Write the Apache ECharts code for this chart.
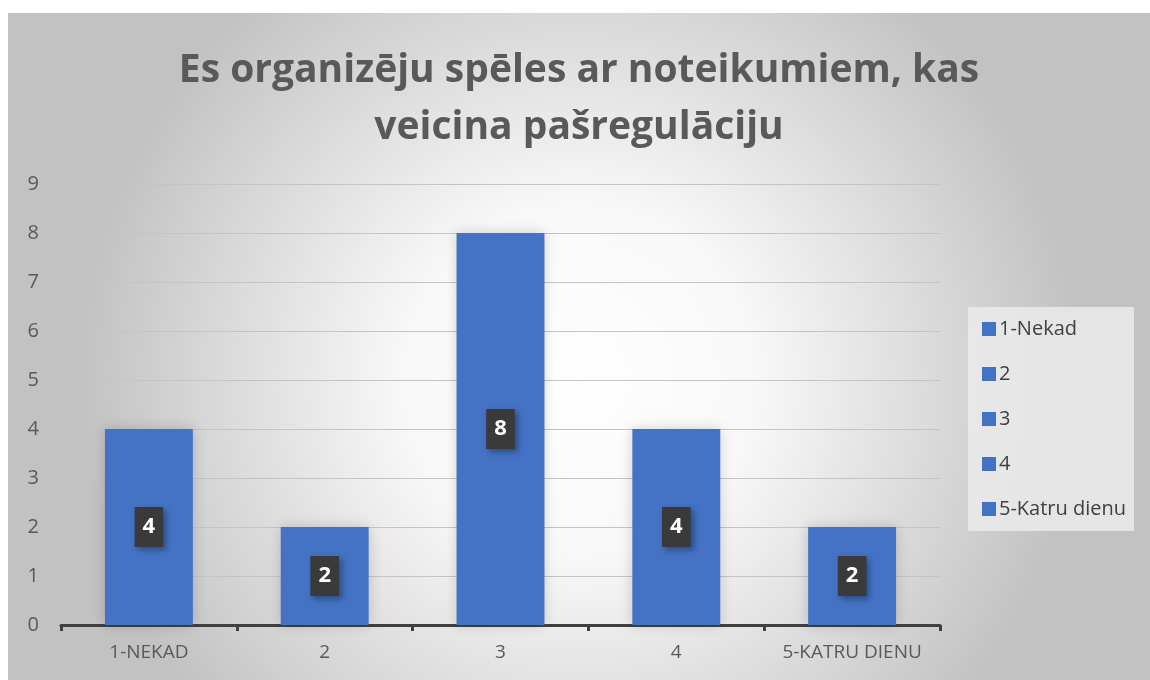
<!DOCTYPE html>
<html>
<head>
<meta charset="utf-8">
<script src="https://cdn.jsdelivr.net/npm/echarts@6/dist/echarts.min.js"></script>
<style>
	html, body { margin: 0; padding: 0; background: #fff; }
	#chart { position: absolute; left: 8px; top: 13px; width: 1142px; height: 667px; }
</style>
</head>
<body>
<div id="chart"></div>
<script>
(function () {

	var TITLE      = 'Es organizēju spēles ar noteikumiem, kas\nveicina pašregulāciju';
	var categories = ['1-NEKAD', '2', '3', '4', '5-KATRU DIENU'];
	var legendNames = ['1-Nekad', '2', '3', '4', '5-Katru dienu'];
	var values     = [4, 2, 8, 4, 2];
	var yTicks     = { min: 0, max: 9, interval: 1 };

	var BLUE = '#4472C4';
	var FONT = '"Open Sans", "Noto Sans", sans-serif';

	// one series per category, stacked so each bar stays centred on its slot
	var series = legendNames.map(function (name, i) {
		var data = values.map(function (v, j) { return j === i ? v : '-'; });
		return {
			name: name, type: 'bar', stack: 'all', barWidth: '50%',
			itemStyle: { color: BLUE, shadowBlur: 12, shadowColor: 'rgba(0,0,0,0.18)' },
			label: {
				show: true, position: 'inside',
				color: '#fff', fontFamily: FONT, fontWeight: 'bold', fontSize: 22,
				backgroundColor: '#3a3a3a', padding: [10, 8, 8, 8],
				shadowBlur: 6, shadowOffsetX: 3, shadowOffsetY: 3, shadowColor: 'rgba(0,0,0,0.35)'
			},
			data: data
		};
	});

	var chart = echarts.init(document.getElementById('chart'));
	chart.setOption({
		backgroundColor: {
			type: 'radial', x: 0.5, y: 0.55, r: 0.75,
			colorStops: [
				{ offset: 0, color: '#ffffff' },
				{ offset: 0.35, color: '#f8f8f8' },
				{ offset: 1, color: '#c2c2c2' }
			]
		},
		title: {
			text: TITLE, left: 'center', top: 24,
			textStyle: { fontFamily: FONT, fontWeight: 'bold', fontSize: 39, color: '#595959', lineHeight: 57 }
		},
		legend: {
			orient: 'vertical', left: 960, top: 294,
			padding: [12, 8, 12, 14], itemGap: 25,
			itemWidth: 14, itemHeight: 14, icon: 'rect',
			backgroundColor: 'rgba(235,235,235,0.85)',
			textStyle: { fontFamily: FONT, fontSize: 20, color: '#404040', padding: [0, 0, 0, -2] },
			data: legendNames
		},
		grid: { left: 53, right: 210, top: 171, bottom: 55 },
		xAxis: {
			type: 'category', data: categories,
			axisLine: { lineStyle: { color: '#404040', width: 3 } },
			axisTick: { show: true, interval: 0, length: 6, lineStyle: { color: '#404040', width: 3 } },
			axisLabel: { interval: 0, fontFamily: FONT, fontSize: 19, color: '#595959', margin: 18 }
		},
		yAxis: {
			type: 'value', min: yTicks.min, max: yTicks.max, interval: yTicks.interval,
			axisLine: { show: false }, axisTick: { show: false },
			splitLine: { lineStyle: { color: '#c4c4c4', width: 1 } },
			axisLabel: { fontFamily: FONT, fontSize: 20, color: '#595959', margin: 22 }
		},
		series: series
	});

})();
</script>
</body>
</html>
